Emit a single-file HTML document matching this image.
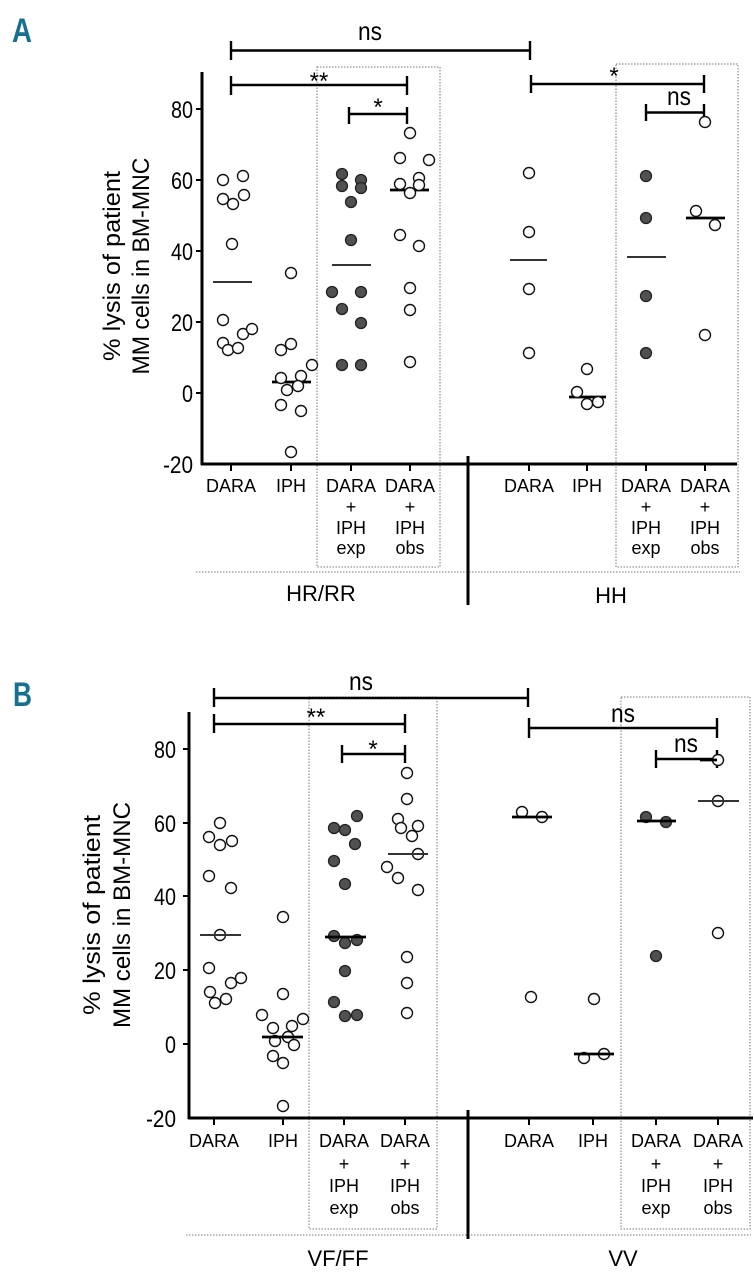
<!DOCTYPE html>
<html><head><meta charset="utf-8"><style>
html,body{margin:0;padding:0;background:#fff;}
svg{display:block;}
text{font-family:"Liberation Sans",sans-serif;fill:#000;}
.c{text-anchor:middle;}
.o{fill:#fff;stroke:#111;stroke-width:1.4;}
.f{fill:#505050;stroke:#222;stroke-width:1.3;}
.ax{stroke:#000;stroke-width:3;fill:none;}
.br{stroke:#000;stroke-width:2.4;fill:none;}
.dot{stroke:#777;stroke-width:1;stroke-dasharray:1.5 1.5;fill:none;}
.mg{stroke:#333;stroke-width:2;}
.mb{stroke:#000;stroke-width:2.8;}
.lab{font-size:18px;}
.tk{font-size:24px;text-anchor:end;}
</style></head><body>
<svg width="754" height="1280" viewBox="0 0 754 1280" xmlns="http://www.w3.org/2000/svg">
<!-- ================= PANEL A ================= -->
<text x="12" y="42" style="font-size:34px;font-weight:bold;fill:#17708f" textLength="20" lengthAdjust="spacingAndGlyphs">A</text>
<rect class="dot" x="317" y="67" width="123" height="500"/>
<rect class="dot" x="616" y="64" width="122" height="503"/>
<line class="dot" x1="196" y1="572" x2="740" y2="572"/>
<line class="ax" x1="202" y1="72" x2="202" y2="465"/>
<line class="ax" x1="201" y1="464" x2="737" y2="464"/>
<line class="ax" x1="468" y1="456" x2="468" y2="605"/>
<g stroke="#000" stroke-width="2">
<line x1="196" y1="109" x2="202" y2="109"/><line x1="196" y1="180" x2="202" y2="180"/><line x1="196" y1="251" x2="202" y2="251"/><line x1="196" y1="322" x2="202" y2="322"/><line x1="196" y1="393" x2="202" y2="393"/>
<line x1="231" y1="464" x2="231" y2="471"/><line x1="291" y1="464" x2="291" y2="471"/><line x1="351" y1="464" x2="351" y2="471"/><line x1="410" y1="464" x2="410" y2="471"/>
<line x1="529" y1="464" x2="529" y2="471"/><line x1="587" y1="464" x2="587" y2="471"/><line x1="646" y1="464" x2="646" y2="471"/><line x1="705" y1="464" x2="705" y2="471"/>
</g>
<text class="tk" x="193" y="118" textLength="22" lengthAdjust="spacingAndGlyphs">80</text>
<text class="tk" x="193" y="189" textLength="22" lengthAdjust="spacingAndGlyphs">60</text>
<text class="tk" x="193" y="260" textLength="22" lengthAdjust="spacingAndGlyphs">40</text>
<text class="tk" x="193" y="331" textLength="22" lengthAdjust="spacingAndGlyphs">20</text>
<text class="tk" x="193" y="402" textLength="11" lengthAdjust="spacingAndGlyphs">0</text>
<text class="tk" x="193" y="473" textLength="30" lengthAdjust="spacingAndGlyphs">-20</text>
<g transform="translate(120,266) rotate(-90)"><text class="c" x="0" y="0" style="font-size:24px" textLength="190" lengthAdjust="spacingAndGlyphs">% lysis of patient</text></g>
<g transform="translate(149,266) rotate(-90)"><text class="c" x="0" y="0" style="font-size:24px" textLength="217" lengthAdjust="spacingAndGlyphs">MM cells in BM-MNC</text></g>
<g class="lab">
<text class="c" x="231" y="492">DARA</text><text class="c" x="291" y="492">IPH</text>
<text class="c" x="351" y="492">DARA</text><text class="c" x="410" y="492">DARA</text>
<text class="c" x="351" y="513">+</text><text class="c" x="410" y="513">+</text>
<text class="c" x="351" y="534">IPH</text><text class="c" x="410" y="534">IPH</text>
<text class="c" x="351" y="554">exp</text><text class="c" x="410" y="554">obs</text>
<text class="c" x="529" y="492">DARA</text><text class="c" x="587" y="492">IPH</text>
<text class="c" x="646" y="492">DARA</text><text class="c" x="705" y="492">DARA</text>
<text class="c" x="646" y="513">+</text><text class="c" x="705" y="513">+</text>
<text class="c" x="646" y="534">IPH</text><text class="c" x="705" y="534">IPH</text>
<text class="c" x="646" y="554">exp</text><text class="c" x="705" y="554">obs</text>
</g>
<text class="c" x="321" y="601" style="font-size:22px">HR/RR</text>
<text class="c" x="611" y="603" style="font-size:22px">HH</text>
<path class="br" d="M231 41V60M231 50.5H530M530 41V60"/>
<text class="c" x="370" y="40" style="font-size:26px" textLength="24" lengthAdjust="spacingAndGlyphs">ns</text>
<path class="br" d="M231 76V95M231 85H407M407 76V95"/>
<text class="c" x="319" y="89" style="font-size:24px">**</text>
<path class="br" d="M349 107V124M349 114H407M407 107V124"/>
<text class="c" x="378" y="115" style="font-size:24px">*</text>
<path class="br" d="M531 75V93M531 84H704M704 75V93"/>
<text class="c" x="614" y="84" style="font-size:24px">*</text>
<path class="br" d="M646 104V121M646 112.5H704M704 104V121"/>
<text class="c" x="679" y="105" style="font-size:26px" textLength="24" lengthAdjust="spacingAndGlyphs">ns</text>
<line class="mg" x1="213" y1="282" x2="252" y2="282"/>
<line class="mb" x1="272" y1="382" x2="311" y2="382"/>
<line class="mg" x1="332" y1="265" x2="371" y2="265"/>
<line class="mb" x1="390" y1="190" x2="429" y2="190"/>
<line class="mg" x1="510" y1="260" x2="547" y2="260"/>
<line class="mb" x1="569" y1="397" x2="606" y2="397"/>
<line class="mg" x1="627" y1="257" x2="666" y2="257"/>
<line class="mb" x1="686" y1="218" x2="725" y2="218"/>
<g class="o">
<circle cx="223" cy="180" r="5.5"/><circle cx="243" cy="176" r="5.5"/><circle cx="223" cy="199" r="5.5"/><circle cx="233" cy="204" r="5.5"/><circle cx="244" cy="195" r="5.5"/><circle cx="232" cy="244" r="5.5"/><circle cx="223" cy="320" r="5.5"/><circle cx="223" cy="343" r="5.5"/><circle cx="228" cy="350" r="5.5"/><circle cx="238" cy="348" r="5.5"/><circle cx="243" cy="334" r="5.5"/><circle cx="252" cy="329" r="5.5"/>
<circle cx="291" cy="273" r="5.5"/><circle cx="281" cy="350" r="5.5"/><circle cx="291" cy="344" r="5.5"/><circle cx="281" cy="378" r="5.5"/><circle cx="301" cy="376" r="5.5"/><circle cx="312" cy="365" r="5.5"/><circle cx="287" cy="390" r="5.5"/><circle cx="298" cy="386" r="5.5"/><circle cx="281" cy="405" r="5.5"/><circle cx="301" cy="411" r="5.5"/><circle cx="291" cy="452" r="5.5"/>
<circle cx="410" cy="133" r="5.5"/><circle cx="400" cy="158" r="5.5"/><circle cx="429" cy="160" r="5.5"/><circle cx="419" cy="178" r="5.5"/><circle cx="400" cy="184" r="5.5"/><circle cx="410" cy="193" r="5.5"/><circle cx="419" cy="185" r="5.5"/><circle cx="400" cy="235" r="5.5"/><circle cx="419" cy="246" r="5.5"/><circle cx="410" cy="288" r="5.5"/><circle cx="410" cy="310" r="5.5"/><circle cx="410" cy="362" r="5.5"/>
<circle cx="529" cy="173" r="5.5"/><circle cx="529" cy="232" r="5.5"/><circle cx="529" cy="289" r="5.5"/><circle cx="529" cy="353" r="5.5"/>
<circle cx="587" cy="369" r="5.5"/><circle cx="577" cy="392" r="5.5"/><circle cx="587" cy="404" r="5.5"/><circle cx="598" cy="402" r="5.5"/>
<circle cx="705" cy="122" r="5.5"/><circle cx="696" cy="211" r="5.5"/><circle cx="715" cy="225" r="5.5"/><circle cx="705" cy="335" r="5.5"/>
</g>
<g class="f">
<circle cx="342" cy="174" r="5.5"/><circle cx="342" cy="186" r="5.5"/><circle cx="361" cy="180" r="5.5"/><circle cx="361" cy="188" r="5.5"/><circle cx="351" cy="202" r="5.5"/><circle cx="351" cy="240" r="5.5"/><circle cx="332" cy="292" r="5.5"/><circle cx="361" cy="292" r="5.5"/><circle cx="342" cy="309" r="5.5"/><circle cx="361" cy="323" r="5.5"/><circle cx="342" cy="365" r="5.5"/><circle cx="361" cy="365" r="5.5"/>
<circle cx="646" cy="176" r="5.5"/><circle cx="646" cy="218" r="5.5"/><circle cx="646" cy="296" r="5.5"/><circle cx="646" cy="353" r="5.5"/>
</g>

<!-- ================= PANEL B ================= -->
<text x="13" y="706" style="font-size:34px;font-weight:bold;fill:#17708f" textLength="19" lengthAdjust="spacingAndGlyphs">B</text>
<rect class="dot" x="309" y="697" width="128" height="532"/>
<rect class="dot" x="621" y="697" width="129" height="532"/>
<line class="dot" x1="186" y1="1235" x2="751" y2="1235"/>
<line class="ax" x1="189" y1="712" x2="189" y2="1119"/>
<line class="ax" x1="188" y1="1118" x2="753" y2="1118"/>
<line class="ax" x1="468" y1="1110" x2="468" y2="1239"/>
<g stroke="#000" stroke-width="2">
<line x1="183" y1="749" x2="189" y2="749"/><line x1="183" y1="823" x2="189" y2="823"/><line x1="183" y1="896" x2="189" y2="896"/><line x1="183" y1="970" x2="189" y2="970"/><line x1="183" y1="1044" x2="189" y2="1044"/>
<line x1="214" y1="1118" x2="214" y2="1125"/><line x1="283" y1="1118" x2="283" y2="1125"/><line x1="344" y1="1118" x2="344" y2="1125"/><line x1="405" y1="1118" x2="405" y2="1125"/>
<line x1="529" y1="1118" x2="529" y2="1125"/><line x1="593" y1="1118" x2="593" y2="1125"/><line x1="656" y1="1118" x2="656" y2="1125"/><line x1="718" y1="1118" x2="718" y2="1125"/>
</g>
<text class="tk" x="176" y="758" textLength="22" lengthAdjust="spacingAndGlyphs">80</text>
<text class="tk" x="176" y="832" textLength="22" lengthAdjust="spacingAndGlyphs">60</text>
<text class="tk" x="176" y="905" textLength="22" lengthAdjust="spacingAndGlyphs">40</text>
<text class="tk" x="176" y="979" textLength="22" lengthAdjust="spacingAndGlyphs">20</text>
<text class="tk" x="176" y="1053" textLength="11" lengthAdjust="spacingAndGlyphs">0</text>
<text class="tk" x="176" y="1127" textLength="30" lengthAdjust="spacingAndGlyphs">-20</text>
<g transform="translate(100,915) rotate(-90)"><text class="c" x="0" y="0" style="font-size:24px" textLength="200" lengthAdjust="spacingAndGlyphs">% lysis of patient</text></g>
<g transform="translate(130,915) rotate(-90)"><text class="c" x="0" y="0" style="font-size:24px" textLength="226" lengthAdjust="spacingAndGlyphs">MM cells in BM-MNC</text></g>
<g class="lab">
<text class="c" x="214" y="1147">DARA</text><text class="c" x="283" y="1147">IPH</text>
<text class="c" x="344" y="1147">DARA</text><text class="c" x="405" y="1147">DARA</text>
<text class="c" x="344" y="1170">+</text><text class="c" x="405" y="1170">+</text>
<text class="c" x="344" y="1192">IPH</text><text class="c" x="405" y="1192">IPH</text>
<text class="c" x="344" y="1214">exp</text><text class="c" x="405" y="1214">obs</text>
<text class="c" x="529" y="1147">DARA</text><text class="c" x="593" y="1147">IPH</text>
<text class="c" x="656" y="1147">DARA</text><text class="c" x="718" y="1147">DARA</text>
<text class="c" x="656" y="1170">+</text><text class="c" x="718" y="1170">+</text>
<text class="c" x="656" y="1192">IPH</text><text class="c" x="718" y="1192">IPH</text>
<text class="c" x="656" y="1214">exp</text><text class="c" x="718" y="1214">obs</text>
</g>
<text class="c" x="338" y="1266" style="font-size:22px">VF/FF</text>
<text class="c" x="623" y="1266" style="font-size:22px">VV</text>
<path class="br" d="M214 688V707M214 698H528M528 688V707"/>
<text class="c" x="361" y="690" style="font-size:26px" textLength="24" lengthAdjust="spacingAndGlyphs">ns</text>
<path class="br" d="M214 714V733M214 724H405M405 714V733"/>
<text class="c" x="316" y="725" style="font-size:24px">**</text>
<path class="br" d="M342 745V763M342 754H405M405 745V763"/>
<text class="c" x="373" y="757" style="font-size:24px">*</text>
<path class="br" d="M529 718V738M529 728H717M717 718V738"/>
<text class="c" x="623" y="722" style="font-size:26px" textLength="24" lengthAdjust="spacingAndGlyphs">ns</text>
<path class="br" d="M656 750V768M656 759H717M717 750V768"/>
<text class="c" x="686" y="752" style="font-size:26px" textLength="24" lengthAdjust="spacingAndGlyphs">ns</text>
<g class="o">
<circle cx="220" cy="823" r="5.5"/><circle cx="209" cy="837" r="5.5"/><circle cx="220" cy="845" r="5.5"/><circle cx="232" cy="841" r="5.5"/><circle cx="209" cy="876" r="5.5"/><circle cx="231" cy="888" r="5.5"/><circle cx="220" cy="935" r="5.5"/><circle cx="209" cy="968" r="5.5"/><circle cx="210" cy="992" r="5.5"/><circle cx="215" cy="1003" r="5.5"/><circle cx="226" cy="999" r="5.5"/><circle cx="231" cy="983" r="5.5"/><circle cx="241" cy="978" r="5.5"/>
<circle cx="283" cy="917" r="5.5"/><circle cx="283" cy="994" r="5.5"/><circle cx="262" cy="1015" r="5.5"/><circle cx="273" cy="1028" r="5.5"/><circle cx="292" cy="1026" r="5.5"/><circle cx="303" cy="1019" r="5.5"/><circle cx="275" cy="1041" r="5.5"/><circle cx="288" cy="1037" r="5.5"/><circle cx="294" cy="1045" r="5.5"/><circle cx="273" cy="1056" r="5.5"/><circle cx="283" cy="1063" r="5.5"/><circle cx="283" cy="1106" r="5.5"/>
<circle cx="407" cy="773" r="5.5"/><circle cx="407" cy="799" r="5.5"/><circle cx="398" cy="819" r="5.5"/><circle cx="401" cy="828" r="5.5"/><circle cx="418" cy="826" r="5.5"/><circle cx="412" cy="836" r="5.5"/><circle cx="418" cy="854" r="5.5"/><circle cx="387" cy="867" r="5.5"/><circle cx="398" cy="878" r="5.5"/><circle cx="418" cy="890" r="5.5"/><circle cx="407" cy="957" r="5.5"/><circle cx="407" cy="983" r="5.5"/><circle cx="407" cy="1013" r="5.5"/>
<circle cx="522" cy="812" r="5.5"/><circle cx="542" cy="817" r="5.5"/><circle cx="531" cy="997" r="5.5"/>
<circle cx="594" cy="999" r="5.5"/><circle cx="584" cy="1058" r="5.5"/><circle cx="604" cy="1054" r="5.5"/>
<circle cx="718" cy="760" r="5.5"/><circle cx="718" cy="801" r="5.5"/><circle cx="718" cy="933" r="5.5"/>
</g>
<g class="f">
<circle cx="334" cy="828" r="5.5"/><circle cx="345" cy="830" r="5.5"/><circle cx="357" cy="816" r="5.5"/><circle cx="355" cy="844" r="5.5"/><circle cx="334" cy="861" r="5.5"/><circle cx="345" cy="884" r="5.5"/><circle cx="334" cy="936" r="5.5"/><circle cx="345" cy="943" r="5.5"/><circle cx="357" cy="940" r="5.5"/><circle cx="345" cy="971" r="5.5"/><circle cx="334" cy="1002" r="5.5"/><circle cx="345" cy="1016" r="5.5"/><circle cx="357" cy="1015" r="5.5"/>
<circle cx="646" cy="817" r="5.5"/><circle cx="666" cy="822" r="5.5"/><circle cx="656" cy="956" r="5.5"/>
</g>
<line class="mg" x1="200" y1="935" x2="241" y2="935"/>
<line class="mb" x1="262" y1="1037" x2="303" y2="1037"/>
<line class="mb" x1="325" y1="937" x2="366" y2="937"/>
<line class="mg" x1="388" y1="854" x2="428" y2="854"/>
<line class="mb" x1="512" y1="817" x2="552" y2="817"/>
<line class="mb" x1="574" y1="1054" x2="614" y2="1054"/>
<line class="mb" x1="637" y1="821" x2="676" y2="821"/>
<line class="mg" x1="698" y1="801" x2="739" y2="801"/>
<line class="mb" x1="700" y1="760" x2="717" y2="760"/>
</svg>
</body></html>
